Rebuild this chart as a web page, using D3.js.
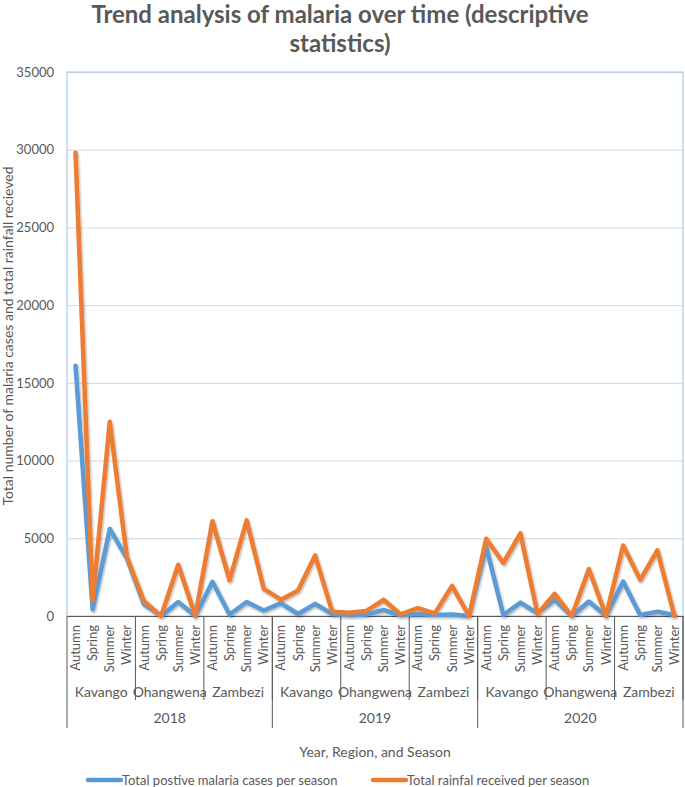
<!DOCTYPE html>
<html>
<head>
<meta charset="utf-8">
<script src="https://cdn.jsdelivr.net/npm/d3@7/dist/d3.min.js"></script>
<style>
  body { margin: 0; background: #fff; }
  svg text { font-family: Lato, 'Open Sans', sans-serif; fill: #595959; }
</style>
</head>
<body>
<div id="chart"></div>
<script>
const years = ['2018', '2019', '2020']
const regions = ['Kavango', 'Ohangwena', 'Zambezi']
const seasons = ['Autumn', 'Spring', 'Summer', 'Winter']

// one value per year > region > season, in that order
const malariaCases = [
  16100, 430, 5600, 3700, 750, 0, 900, 0, 2200, 100, 900, 350,
  830, 130, 780, 130, 40, 100, 390, 40, 130, 65, 100, 0,
  4450, 65, 860, 170, 1040, 0, 930, 0, 2220, 65, 280, 65
]
const rainfall = [
  29800, 1000, 12500, 3800, 950, 0, 3300, 0, 6100, 2300, 6150, 1750,
  1050, 1640, 3890, 280, 215, 325, 1040, 100, 500, 170, 1940, 0,
  4970, 3410, 5310, 130, 1430, 0, 3020, 0, 4540, 2330, 4230, 0
]
const yTicks = [0, 5000, 10000, 15000, 20000, 25000, 30000, 35000]

const seriesNames = ['Total postive malaria cases per season', 'Total  rainfal received per season']
const colors = ['#5b9bd5', '#ed7d31']

const width = 685
const height = 787
const marginLeft = 67
const marginRight = 2
const marginTop = 72
const plotBottom = 616

const cats = []
years.forEach(y => regions.forEach(r => seasons.forEach(s => cats.push({ year: y, region: r, season: s }))))
const rows = cats.map((c, i) => Object.assign({ key: i, cases: malariaCases[i], rain: rainfall[i] }, c))

const svg = d3.select('#chart').append('svg')
  .attr('width', width)
  .attr('height', height)

const defs = svg.append('defs')
const shadow = defs.append('filter').attr('id', 'shadow')
  .attr('x', '-5%').attr('y', '-5%').attr('width', '110%').attr('height', '110%')
shadow.append('feDropShadow')
  .attr('dx', 1).attr('dy', 1.5).attr('stdDeviation', 1.2)
  .attr('flood-color', '#000').attr('flood-opacity', 0.3)

const x = d3.scaleBand()
  .domain(rows.map(d => d.key))
  .range([marginLeft, width - marginRight])
  .padding(0)

const y = d3.scaleLinear()
  .domain([0, 35000])
  .range([plotBottom, marginTop])

const cx = (k) => x(k) + x.bandwidth() / 2

// title
svg.append('text')
  .attr('x', 340).attr('y', 23)
  .attr('text-anchor', 'middle')
  .style('font-size', '24px').style('font-weight', 'bold')
  .text('Trend analysis of malaria over time (descriptive')
svg.append('text')
  .attr('x', 340).attr('y', 52)
  .attr('text-anchor', 'middle')
  .style('font-size', '24px').style('font-weight', 'bold')
  .text('statistics)')

// gridlines + y axis
const yAxis = d3.axisLeft(y)
  .tickValues(yTicks)
  .tickSize(-(width - marginRight - marginLeft))
  .tickPadding(13)
  .tickFormat(d3.format('d'))

const gy = svg.append('g')
  .attr('class', 'y axis')
  .attr('transform', 'translate(' + [marginLeft, 0] + ')')
  .call(yAxis)
gy.select('.domain').remove()
gy.selectAll('.tick line').attr('stroke', '#d9d9d9')
gy.selectAll('.tick text').style('font-size', '13px')

// plot border
svg.append('rect')
  .attr('x', marginLeft).attr('y', marginTop)
  .attr('width', width - marginRight - marginLeft)
  .attr('height', plotBottom - marginTop)
  .attr('fill', 'none')
  .attr('stroke', '#9dc3e6')
  .attr('stroke-width', 1)

svg.append('text')
  .attr('transform', 'translate(13,' + 336 + ') rotate(-90)')
  .attr('text-anchor', 'middle')
  .style('font-size', '14px')
  .text('Total number of malaria cases and  total  rainfall recieved')

// category axis: seasons
const xAxis = d3.axisBottom(x)
  .tickSize(0)
  .tickFormat(k => rows[k].season)

const gx = svg.append('g')
  .attr('class', 'x axis')
  .attr('transform', 'translate(0,' + plotBottom + ')')
  .call(xAxis)
gx.select('.domain').attr('stroke', '#595959')
gx.selectAll('.tick text')
  .style('font-size', '13px')
  .attr('text-anchor', 'end')
  .attr('transform', 'rotate(-90)')
  .attr('x', -9)
  .attr('y', 0)
  .attr('dy', '0.35em')

// region labels and separators
const regionGroups = d3.groups(rows, d => d.year, d => d.region)
regionGroups.forEach(([yr, regs]) => {
  regs.forEach(([reg, items]) => {
    const x0 = x(items[0].key)
    const x1 = x(items[items.length - 1].key) + x.bandwidth()
    svg.append('text')
      .attr('x', (x0 + x1) / 2).attr('y', 697)
      .attr('text-anchor', 'middle')
      .style('font-size', '14px')
      .text(reg)
    svg.append('line')
      .attr('x1', x1).attr('x2', x1)
      .attr('y1', plotBottom).attr('y2', 700)
      .attr('stroke', '#595959')
  })
})

const yearGroups = d3.groups(rows, d => d.year)
yearGroups.forEach(([yr, items], i) => {
  const x0 = x(items[0].key)
  const x1 = x(items[items.length - 1].key) + x.bandwidth()
  svg.append('text')
    .attr('x', (x0 + x1) / 2).attr('y', 723)
    .attr('text-anchor', 'middle')
    .style('font-size', '14px')
    .text(yr)
  svg.append('line')
    .attr('x1', x1).attr('x2', x1)
    .attr('y1', plotBottom).attr('y2', 728)
    .attr('stroke', '#595959')
  if (i === 0) {
    svg.append('line')
      .attr('x1', x0).attr('x2', x0)
      .attr('y1', plotBottom).attr('y2', 728)
      .attr('stroke', '#595959')
  }
})

svg.append('text')
  .attr('x', 375).attr('y', 757)
  .attr('text-anchor', 'middle')
  .style('font-size', '14px')
  .text('Year, Region, and Season')

// lines
const line = (field) => d3.line()
  .x(d => cx(d.key))
  .y(d => y(d[field]))

const lines = svg.append('g').attr('class', 'lines').attr('filter', 'url(#shadow)')
lines.append('path')
  .datum(rows)
  .attr('fill', 'none')
  .attr('stroke', colors[0])
  .attr('stroke-width', 4.5)
  .attr('stroke-linejoin', 'round')
  .attr('stroke-linecap', 'round')
  .attr('d', line('cases'))
lines.append('path')
  .datum(rows)
  .attr('fill', 'none')
  .attr('stroke', colors[1])
  .attr('stroke-width', 4.5)
  .attr('stroke-linejoin', 'round')
  .attr('stroke-linecap', 'round')
  .attr('d', line('rain'))

// legend
const legendX = [88, 373]
const legend = svg.append('g').attr('class', 'legend')
seriesNames.forEach((name, i) => {
  const g = legend.append('g').attr('transform', 'translate(' + [legendX[i], 780] + ')')
  g.append('line')
    .attr('x1', 0).attr('x2', 33)
    .attr('stroke', colors[i])
    .attr('stroke-width', 4.5)
    .attr('stroke-linecap', 'round')
  g.append('text')
    .attr('x', 34).attr('dy', '0.35em')
    .style('font-size', '13px')
    .text(name)
})
</script>
</body>
</html>
